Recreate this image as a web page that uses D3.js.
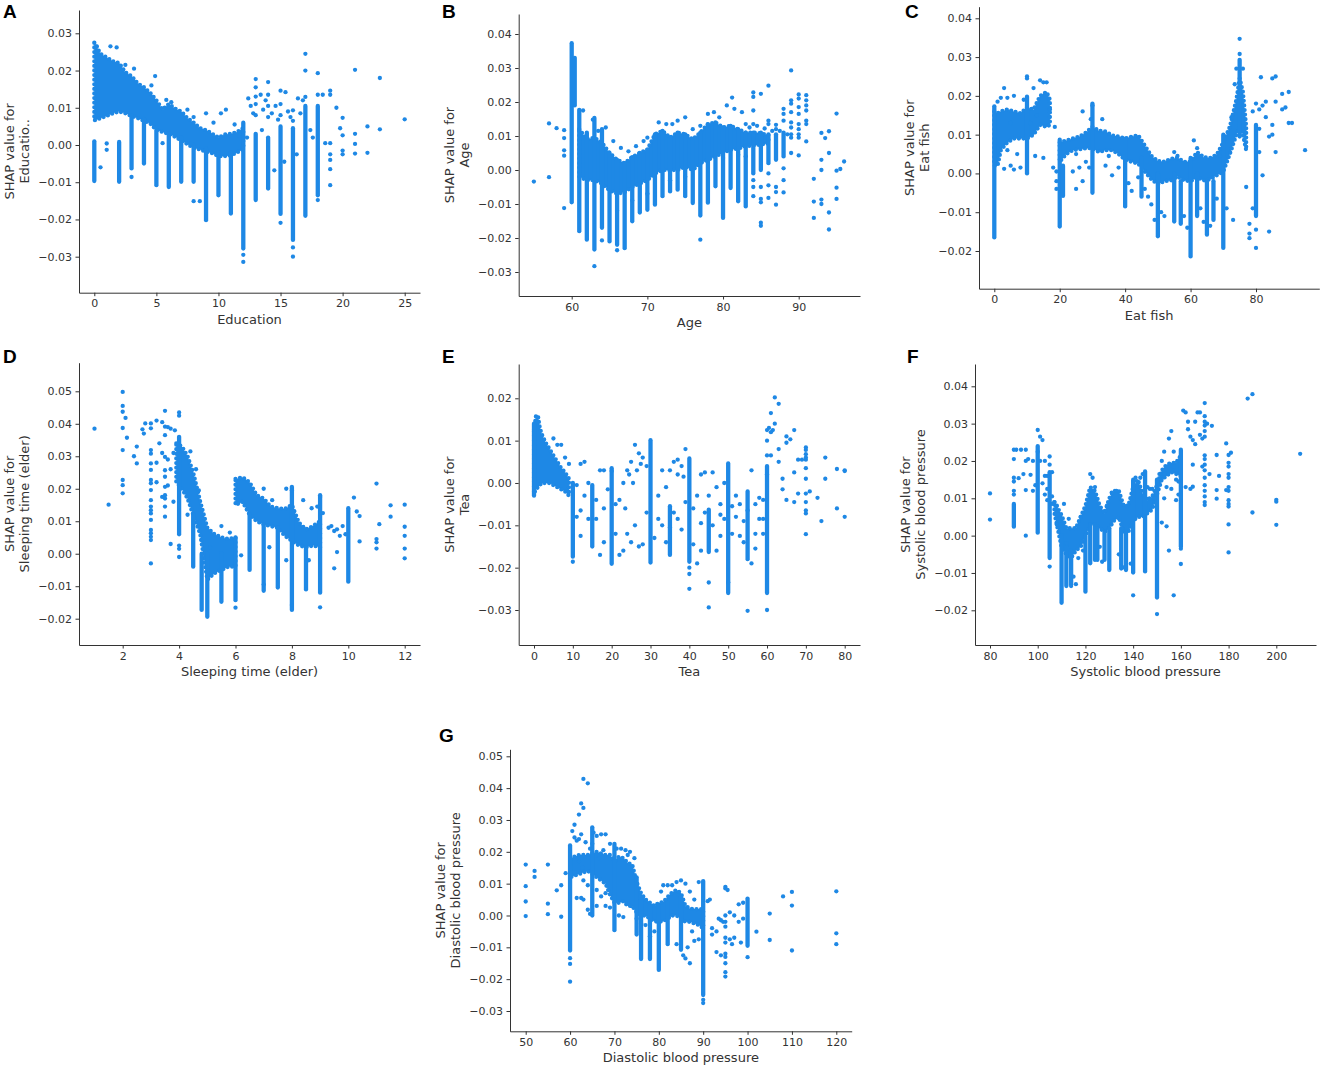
<!DOCTYPE html>
<html>
<head>
<meta charset="utf-8">
<script src="https://cdn.jsdelivr.net/npm/d3@7"></script>
<style>
  body { margin: 0; background: #fff; }
  text { font-family: "DejaVu Sans", sans-serif; }
</style>
</head>
<body>
<script>
// ---- data: dense clouds [x, lo, hi], dense columns [x, lo, hi], single dots [x, y]
var eduBands = [[
  [0, 0.0066, 0.0275], [0.5, 0.0072, 0.0245], [1, 0.0078, 0.0235], [1.5, 0.0085, 0.0225], [2, 0.009, 0.022],
  [2.5, 0.0085, 0.0195], [3, 0.0078, 0.0185], [3.5, 0.0072, 0.0165], [4, 0.0065, 0.0155], [4.5, 0.0058, 0.014],
  [5, 0.004, 0.012], [5.5, 0.0035, 0.0095], [6, 0.003, 0.011], [6.5, 0.0022, 0.0098], [7, 0.0012, 0.009],
  [7.5, 0.0002, 0.0072], [8, -0.0008, 0.006], [8.5, -0.0012, 0.0045], [9, -0.0018, 0.004], [9.5, -0.0022, 0.003],
  [10, -0.003, 0.002], [10.5, -0.003, 0.0028], [11, -0.0028, 0.003], [11.5, -0.002, 0.0035], [12, -0.001, 0.0045]
]];
var eduCols = [
  [0, -0.0097, 0.001], [2, -0.0099, 0.0008], [3, -0.0063, 0.008], [4, -0.005, 0.007], [5, -0.0108, 0.004],
  [6, -0.0113, 0.003], [7, -0.0099, 0.002], [8, -0.0099, 0.0], [9, -0.0202, -0.001], [10, -0.0135, -0.002],
  [11, -0.0184, -0.002], [12, -0.0278, 0.006], [13, -0.0148, 0.003], [14, -0.0117, 0.002], [15, -0.0185, 0.005],
  [16, -0.0255, 0.0045], [17, -0.019, 0.0105], [18, -0.0135, 0.0105]
];
var eduPts = [
  [0.2, 0.0265], [1.3, 0.0265], [1.8, 0.0262], [0.5, -0.006], [1, 0.0004], [1, -0.0013], [2.5, 0.0215], [3.2, 0.0205],
  [4.9, 0.0185], [4.6, 0.016], [5.8, 0.0121], [6.2, 0.0115], [7.5, 0.0095], [8, 0.0075], [9, 0.0085], [10.2, 0.0085],
  [10.6, 0.0095], [9.6, 0.006], [8.5, -0.0151], [8, -0.0151], [3, -0.0086], [5.5, 0.0005], [7.8, 0.0005],
  [11.3, 0.0055], [11.7, 0.0025], [12.4, 0.0125], [12.6, 0.0105], [12.8, 0.0085], [13.4, 0.0135], [13.6, 0.0095],
  [13.8, 0.012], [14.3, 0.0085], [14.6, 0.0105], [14.8, 0.0068], [15.4, 0.0142], [15.6, 0.009], [15.8, 0.0075],
  [16.4, 0.0125], [16.6, 0.0085], [16.8, 0.012], [17.4, 0.004], [17.6, 0.002], [15.3, -0.0045], [16.3, -0.0025],
  [14.5, -0.0068], [13.5, 0.004], [12.3, 0.002], [18.4, 0.0135], [18.6, 0.0005], [19.5, 0.01], [19.8, 0.0045],
  [20, 0.0073], [20, 0.0026], [20, -0.0015], [20, -0.0025], [21, 0.0202], [21, 0.003], [21, 0.0003], [21, -0.0023],
  [22, 0.005], [22, -0.0021], [23, 0.018], [23, 0.0042], [25, 0.0069], [19, 0.0146], [19, 0.0135], [19, 0.0005],
  [19, -0.0025], [19, -0.004], [19, -0.0065], [19, -0.0108], [12, -0.0295], [12, -0.0314], [13, 0.0177], [13, 0.0155],
  [13, 0.013], [13, 0.011], [13, 0.008], [14, 0.0169], [14, 0.0135], [14, 0.0105], [14, 0.0075], [15, 0.0146],
  [15, 0.011], [15, 0.008], [15, -0.0209], [16, -0.0275], [16, -0.030], [16, 0.0093], [16, 0.0065], [17, 0.0245],
  [17, 0.02], [17, 0.0129], [18, 0.0193], [18, 0.0135], [18, -0.0148]
];

var ageBands = [[
  [61, -0.002, 0.012], [62, -0.003, 0.009], [63, -0.003, 0.0095], [64, -0.004, 0.008], [65, -0.006, 0.005],
  [66, -0.007, 0.003], [67, -0.0065, 0.002], [68, -0.005, 0.0038], [69, -0.004, 0.005], [70, -0.003, 0.006],
  [71, -0.001, 0.0105], [72, 0.0, 0.0115], [73, 0.0, 0.0095], [74, 0.0, 0.011], [75, 0.001, 0.0105], [76, 0.0, 0.009],
  [77, 0.002, 0.011], [78, 0.003, 0.0135], [79, 0.004, 0.014], [80, 0.005, 0.0125], [81, 0.006, 0.013],
  [82, 0.0063, 0.012], [83, 0.007, 0.011], [84, 0.0072, 0.011], [85, 0.0075, 0.0108], [86, 0.0078, 0.0102]
]];
var ageCols = [
  [60, -0.0095, 0.0373], [60.4, 0.019, 0.033], [61, -0.018, 0.0177], [62, -0.0205, 0.011], [63, -0.0234, 0.0153],
  [64, -0.017, 0.012], [65, -0.021, 0.005], [66, -0.022, 0.003], [67, -0.023, 0.002], [68, -0.0151, 0.0038],
  [69, -0.0125, 0.005], [70, -0.0117, 0.006], [71, -0.0102, 0.0105], [72, -0.0077, 0.0115], [73, -0.0063, 0.0095],
  [74, -0.0058, 0.011], [75, -0.0077, 0.0105], [76, -0.0097, 0.009], [77, -0.0134, 0.011], [78, -0.0096, 0.0135],
  [79, -0.0048, 0.014], [80, -0.0141, 0.0125], [81, -0.0053, 0.013], [82, -0.0092, 0.012], [83, -0.0107, 0.011],
  [84, -0.001, 0.011], [85, 0.0, 0.011], [86, 0.002, 0.0105], [87, 0.003, 0.0105], [88, 0.004, 0.011]
];
var agePts = [
  [84, 0.0228], [84, 0.0215], [84, 0.0175], [84, 0.0135], [84, -0.003], [84, -0.005], [84, -0.0077],
  [85, 0.0224], [85, -0.005], [85, -0.0085], [85, -0.0095], [85, -0.0155], [85, -0.0164],
  [86, 0.0248], [86, 0.0145], [86, 0.0135], [86, -0.001], [86, -0.0045], [86, -0.0082],
  [87, 0.0133], [87, 0.012], [87, -0.005], [87, -0.0065], [87, -0.0102],
  [88, 0.018], [88, 0.0165], [88, 0.0145], [88, 0.0005], [88, -0.003], [88, -0.0066],
  [89, 0.0293], [89, 0.0205], [89, 0.0195], [89, 0.017], [89, 0.014], [89, 0.0125], [89, 0.0105], [89, 0.0095], [89, 0.005],
  [90, 0.0222], [90, 0.021], [90, 0.0185], [90, 0.0165], [90, 0.0135], [90, 0.012], [90, 0.0105], [90, 0.0095], [90, 0.0043],
  [91, 0.022], [91, 0.0205], [91, 0.019], [91, 0.0175], [91, 0.0145], [91, 0.0135], [91, 0.0084],
  [55, -0.0034], [57, 0.0137], [57, -0.0021], [58, 0.0123], [59, 0.0117], [59, 0.0094], [59, 0.0058], [59, 0.0042],
  [59, -0.0112], [63, -0.0283], [64, -0.0207], [66, -0.0236], [77, -0.0205], [92, -0.0026], [92, -0.0093],
  [92, -0.0141], [93, 0.0109], [93, 0.003], [93, 0.0], [93, -0.0087], [93, -0.01], [93.5, 0.0094], [94, 0.0114],
  [94, 0.005], [94, -0.0125], [94, -0.0175], [95, 0.0166], [95, -0.0002], [95, -0.0052], [95, -0.0085],
  [95.5, 0.0003], [96, 0.0025],
  [61.5, 0.0175], [62.8, 0.0148], [64.5, 0.0125], [63.5, 0.0115], [65.5, 0.0085], [66.5, 0.0065], [67.5, 0.0055],
  [68.5, 0.007], [69.5, 0.0085], [70, 0.0095], [71.5, 0.014], [72.5, 0.0135], [73.3, 0.0135], [74, 0.0145],
  [75, 0.0155], [76, 0.012], [77, 0.013], [78, 0.0165], [78.8, 0.017], [79.5, 0.0155], [80.5, 0.019], [81.2, 0.0213],
  [81.5, 0.018], [82.5, 0.017], [83, 0.0135], [83.5, 0.0125], [84.5, 0.013], [85.5, 0.0122], [86.5, 0.0115],
  [87.5, 0.0115], [88.5, 0.0105], [82, 0.0045], [83, 0.004], [80, 0.0035], [75, -0.002], [73, -0.003], [70, -0.007],
  [68, -0.009], [66, -0.012]
];

var fishBands = [
  [[0, 0.002, 0.016], [1, 0.002, 0.0155], [2, 0.006, 0.016], [4, 0.008, 0.0165], [6, 0.009, 0.016], [8, 0.009, 0.0155],
   [10, 0.009, 0.017], [12, 0.01, 0.0165], [14, 0.0125, 0.02], [16, 0.012, 0.021], [17, 0.0125, 0.019]],
  [[20, 0.003, 0.008], [22, 0.005, 0.0085], [24, 0.006, 0.009], [26, 0.0062, 0.0095], [28, 0.0065, 0.0105],
   [30, 0.0065, 0.012], [32, 0.0055, 0.011], [34, 0.006, 0.0108], [36, 0.006, 0.0098], [38, 0.005, 0.0095],
   [40, 0.0035, 0.009], [42, 0.003, 0.0095], [44, 0.0025, 0.0098], [46, 0.0005, 0.0072], [48, -0.0015, 0.0045],
   [50, -0.0028, 0.0032], [52, -0.002, 0.003], [54, -0.0018, 0.0038], [56, -0.0008, 0.004], [58, -0.0018, 0.003],
   [60, -0.002, 0.003], [62, -0.001, 0.0055], [64, -0.0018, 0.0042], [66, -0.0015, 0.004], [68, -0.0005, 0.0048],
   [70, 0.0005, 0.008], [72, 0.005, 0.012], [74, 0.01, 0.019], [75, 0.012, 0.0245], [76, 0.01, 0.021], [77, 0.006, 0.012]]
];
var fishCols = [
  [0, -0.0165, 0.0173], [10, 0.0, 0.0198], [20, -0.0137, 0.0087], [21, -0.0058, 0.002], [30, -0.005, 0.018],
  [40, -0.0085, 0.009], [45, -0.006, 0.004], [50, -0.0162, 0.0], [55, -0.0124, 0.0], [57, -0.013, -0.002],
  [60, -0.0214, 0.004], [62, -0.011, 0.0], [65, -0.0158, -0.002], [67, -0.012, -0.002], [70, -0.0192, 0.01],
  [75, 0.0095, 0.0293], [80, -0.011, 0.0125]
];
var fishPts = [
  [75, 0.0347], [75, 0.0308], [76, 0.027], [74, 0.027], [73.5, 0.023], [72.5, 0.0145], [3, 0.022], [2, 0.0195],
  [4, 0.0195], [6, 0.02], [9, 0.019], [10, 0.025], [10, 0.0245], [14, 0.024], [15, 0.0235], [16, 0.0235],
  [3, 0.0012], [5, 0.002], [6, 0.001], [8, 0.0015], [4, 0.006], [7, 0.005], [12.5, 0.0045], [15, 0.004],
  [18, 0.0015], [18.5, 0.012], [19, 0.0005], [19, -0.002], [19, -0.004], [25, 0.005], [26, 0.0015], [27, -0.002],
  [28, 0.003], [29, 0.0015], [25, -0.004], [24, 0.0005], [27, 0.016], [30, 0.0175], [29.5, 0.014], [33, 0.014],
  [35, 0.0045], [34, 0.002], [36, -0.0005], [38, 0.0015], [41, -0.0025], [42, -0.0045], [44, -0.001], [46, -0.004],
  [47, -0.006], [48, -0.008], [49, -0.012], [51, -0.01], [52, -0.011], [55, 0.0055], [56, 0.0045], [58, -0.011],
  [59, -0.014], [61, 0.0085], [62, 0.0065], [63, -0.009], [64, -0.0125], [66, -0.0135], [68, -0.0065], [69, 0.0045],
  [71, -0.009], [73, -0.012], [77, -0.0035], [78, -0.013], [78, -0.0155], [78, -0.0167], [79, 0.016], [79, -0.009],
  [80, 0.018], [80, -0.0192], [80, -0.0145], [81, 0.0055], [81, 0.0165], [81, 0.0115], [82, 0.0175], [82, -0.0005],
  [81.5, 0.0248], [83, 0.0145], [83, 0.0185], [84, 0.0095], [84, -0.015], [85, 0.0245], [85, 0.01], [85, 0.0125],
  [86, 0.025], [86, 0.0055], [86, 0.0185], [88, 0.0165], [88, 0.0205], [89, 0.017], [90, 0.021], [90, 0.013],
  [91, 0.013], [95, 0.006], [12, 0.022], [5, 0.013], [11, 0.013], [13, 0.015], [17, 0.0165], [1, 0.0185]
];

var sleepBands = [
  [[3.9, 0.022, 0.034], [4.1, 0.02, 0.033], [4.3, 0.017, 0.03], [4.5, 0.012, 0.025], [4.75, 0.006, 0.016],
   [5, -0.008, 0.008], [5.25, -0.006, 0.006], [5.5, -0.005, 0.005], [5.75, -0.004, 0.0045], [6, -0.004, 0.005]],
  [[6, 0.015, 0.023], [6.25, 0.016, 0.0235], [6.5, 0.012, 0.022], [6.75, 0.01, 0.018], [7, 0.009, 0.017],
   [7.25, 0.0085, 0.0145], [7.5, 0.008, 0.014], [7.75, 0.0055, 0.0138], [8, 0.004, 0.015], [8.25, 0.0025, 0.0095],
   [8.5, 0.002, 0.0075], [8.75, 0.0025, 0.0085], [9, 0.002, 0.01]]
];
var sleepCols = [
  [4, 0.006, 0.036], [4.5, -0.004, 0.012], [4.8, -0.0173, 0.0], [5, -0.0194, 0.0], [5.5, -0.0148, 0.0],
  [6, -0.0143, 0.005], [6.5, -0.005, 0.012], [7, -0.0114, 0.009], [7.5, -0.0104, 0.008], [8, -0.0173, 0.0206],
  [8.5, -0.0107, 0.002], [9, -0.012, 0.018], [10, -0.0086, 0.014]
];
var sleepPts = [
  [1, 0.0385], [1.5, 0.0151], [2, 0.0498], [2, 0.0455], [2, 0.0437], [2, 0.0387], [2, 0.0319], [2, 0.0227],
  [2, 0.0211], [2, 0.0186], [2.1, 0.0418], [2.15, 0.0357], [2.4, 0.03], [2.5, 0.033], [2.5, 0.0278], [2.7, 0.0383],
  [2.75, 0.037], [2.8, 0.0401], [3, -0.003],
  [3, 0.0401], [3, 0.0386], [3, 0.0319], [3, 0.0308], [3, 0.0278], [3, 0.0258], [3, 0.0227], [3, 0.0217],
  [3, 0.0196], [3, 0.0165], [3, 0.0145], [3, 0.0134], [3, 0.0124], [3, 0.0104], [3, 0.0073], [3, 0.0063],
  [3, 0.0052], [3, 0.0042],
  [3.5, 0.0391], [3.5, 0.0365], [3.5, 0.0298], [3.5, 0.0257], [3.5, 0.0237], [3.5, 0.0206], [3.5, 0.018],
  [3.5, 0.017], [3.5, 0.0145], [3.5, 0.0114],
  [3.2, 0.041], [3.4, 0.0405], [3.5, 0.044], [3.6, 0.039], [3.7, 0.0385], [3.85, 0.038], [4, 0.0435], [4, 0.0425],
  [4, 0.0025], [4, 0.0015], [4, -0.001], [3.3, 0.034], [3.4, 0.031], [3.6, 0.029], [3.7, 0.026], [3.8, 0.031],
  [3.2, 0.028], [3.6, 0.021], [3.8, 0.016], [3.4, 0.0175], [3.2, 0.022], [3.7, 0.003], [4.4, 0.0315], [4.6, 0.026],
  [4.7, 0.0195], [4.3, 0.012], [5.5, 0.0085], [5.8, 0.0065], [6.2, -0.0005], [7, 0.02], [7.3, 0.0165], [7.8, 0.02],
  [8, 0.0195], [8.4, 0.0165], [8.7, 0.014], [8.9, 0.0145], [9, 0.0175], [9.1, 0.0125], [9.3, 0.008], [9.4, 0.0085],
  [9.5, 0.007], [9.6, 0.0075], [9.7, 0.0055], [9.8, 0.0085], [9.9, 0.006], [10.3, 0.013], [10.2, 0.0173],
  [10.4, 0.0116], [10.4, 0.0038], [8.6, -0.002], [7.2, 0.002], [7.8, -0.002], [8.3, 0.0035], [9.6, 0.0005],
  [9.5, -0.0045], [5.1, 0.002], [11, 0.0216], [11, 0.0045], [11, 0.0035], [11, 0.0016], [11.1, 0.0091],
  [11.5, 0.0149], [11.5, 0.0114], [12, 0.0151], [12, 0.0083], [12, 0.0055], [12, 0.0016], [12, -0.0014],
  [6, -0.0166], [9, -0.0165], [8, -0.0158], [8.5, -0.011], [7, -0.0095]
];

var teaBands = [[
  [0, -0.0025, 0.0125], [0.5, -0.0015, 0.0158], [1, -0.001, 0.016], [1.5, -0.0005, 0.013], [2, 0.0, 0.0115],
  [3, 0.0, 0.0095], [4, 0.0, 0.008], [5, -0.0005, 0.0065], [6, -0.001, 0.005], [7, -0.0015, 0.0035],
  [8, -0.002, 0.0025], [9, -0.003, 0.001]
]];
var teaCols = [
  [0, -0.003, 0.014], [10, -0.0174, 0.0], [15, -0.015, -0.0005], [20, -0.0191, 0.0035], [30, -0.0188, 0.0101],
  [35, -0.017, -0.0055], [40, -0.0186, 0.0058], [45, -0.0163, -0.0063], [50, -0.026, 0.0046], [55, -0.018, -0.002],
  [60, -0.026, 0.004]
];
var teaPts = [
  [70, 0.0084], [70, 0.0078], [70, 0.0068], [70, 0.006], [70, 0.0055], [70, 0.0035], [70, 0.001], [70, -0.0025],
  [70, -0.0045], [70, -0.0065], [70, -0.0072], [70, -0.0121], [60, 0.0125], [60, 0.01], [60, 0.0065], [60, 0.002],
  [60, -0.03], [40, -0.020], [40, -0.0215], [40, -0.025], [45, -0.0235], [45, -0.0294], [55, -0.0302], [50, -0.0235],
  [10, -0.0186], [12, 0.0045], [13, 0.005], [11, -0.008], [12, -0.0125], [14, -0.0085], [13, -0.003], [16, -0.004],
  [17, 0.003], [18, 0.003], [20, 0.0028], [17, -0.017], [18, -0.014], [21, -0.012], [22, -0.017], [23, -0.016],
  [24, -0.012], [25, -0.014], [27, -0.015], [26, -0.01], [22, -0.004], [23, 0.0], [24, 0.003], [25, 0.005],
  [26, 0.009], [27, 0.007], [28, 0.006], [29, 0.004], [24.5, 0.002], [25.5, 0.0], [23.5, -0.006], [26.5, 0.003],
  [27.5, 0.0045], [31, -0.013], [32, -0.003], [33, -0.01], [33, 0.003], [34, -0.014], [34, -0.001], [35, 0.003],
  [36, 0.005], [37, 0.0055], [38, 0.004], [38, -0.011], [39, 0.008], [36, -0.007], [37, 0.002], [38.5, 0.0015],
  [41, -0.0145], [42, -0.019], [43, -0.016], [42, -0.003], [43, 0.002], [44, 0.0025], [44, -0.007], [46, -0.01],
  [46, 0.0025], [47, -0.016], [47, -0.001], [48, -0.005], [49, 0.0], [48, -0.0075], [51, -0.012], [52, -0.008],
  [52, -0.003], [53, -0.005], [54, -0.009], [54, -0.014], [56, -0.019], [56, 0.003], [57, -0.005], [57, -0.012],
  [58, -0.0035], [59, -0.004], [59, -0.0085], [61, 0.012], [61, 0.0065], [62, 0.014], [62, 0.0202], [63, 0.0187],
  [63, 0.008], [63, 0.005], [64, 0.001], [64, -0.0015], [65, 0.011], [65, 0.0095], [65, -0.004], [66, 0.0103],
  [67, 0.0125], [67, 0.0025], [67, -0.0045], [68, 0.0055], [68, -0.0025], [69, 0.0055], [71, -0.002], [73, -0.0035],
  [74, -0.009], [75, 0.006], [75, 0.001], [78, 0.0033], [78, -0.006], [80, 0.003], [80, 0.0028], [80, -0.008],
  [61, 0.0165], [60.5, 0.013], [61.5, 0.0125], [5, 0.0105], [6, 0.009], [7, 0.009], [8, 0.006], [9, 0.0045],
  [11, -0.0005], [14, 0.0], [19, -0.0015], [21, -0.005], [18, -0.006], [16, -0.0085], [12, -0.0065], [28, -0.0145],
  [29, -0.007], [32, -0.0085], [35, -0.0105], [37, -0.0085], [39, -0.0045], [41, -0.006], [43, -0.0095],
  [45, -0.003], [48, -0.0125], [49, -0.0085], [51, -0.0055], [53, -0.0125], [55, -0.0065], [57, -0.0155],
  [58, -0.0085], [59, -0.012]
];

var sbpBands = [[
  [107, 0.006, 0.009], [110, -0.003, 0.0055], [112, -0.005, 0.002], [114, -0.006, 0.002], [116, -0.004, 0.002],
  [118, -0.003, 0.005], [120, 0.0, 0.008], [122, 0.003, 0.013], [124, 0.003, 0.012], [126, 0.002, 0.008],
  [128, 0.001, 0.006], [130, 0.002, 0.01], [132, 0.004, 0.012], [134, 0.005, 0.012], [136, 0.001, 0.008],
  [138, 0.001, 0.008], [140, 0.004, 0.013], [142, 0.005, 0.015], [144, 0.005, 0.011], [146, 0.006, 0.0095],
  [148, 0.007, 0.0105], [150, 0.011, 0.0135], [152, 0.015, 0.0175], [154, 0.016, 0.019], [156, 0.017, 0.0195],
  [158, 0.0165, 0.0195], [160, 0.016, 0.0215]
]];
var sbpCols = [
  [90, 0.0024, 0.0085], [100, 0.0008, 0.024], [105, -0.006, 0.017], [110, -0.018, 0.0], [112, -0.0135, -0.003],
  [114, -0.013, -0.004], [120, -0.015, 0.0], [122, -0.0074, 0.003], [124, -0.0065, 0.003], [125, -0.0065, 0.002],
  [128, -0.0065, 0.001], [130, -0.0092, 0.002], [135, -0.0088, 0.002], [137, -0.0092, 0.001], [140, -0.0099, 0.015],
  [145, -0.0096, 0.0172], [150, -0.0166, 0.015], [160, -0.003, 0.023]
];
var sbpPts = [
  [90, 0.023], [90, 0.0205], [90, 0.0155], [90, 0.0145], [90, 0.012], [90, 0.011], [105, 0.0212], [105, 0.019],
  [105, -0.0083], [160, -0.0035], [160, -0.0076],
  [170, 0.0355], [170, 0.032], [170, 0.0305], [170, 0.0295], [170, 0.028], [170, 0.0265], [170, 0.0215],
  [170, 0.0205], [170, 0.019], [170, 0.0175], [170, 0.0155], [170, 0.0135], [170, 0.012], [170, 0.0105],
  [170, 0.009], [170, 0.0082],
  [180, 0.0216], [180, 0.0195], [180, 0.0185], [180, 0.0165], [180, 0.0155], [180, 0.013], [180, 0.012],
  [180, 0.0095], [180, 0.0085], [180, 0.0078], [180, 0.003], [180, -0.0045],
  [80, 0.0113], [80, 0.0043], [91, 0.023], [93, 0.023], [92, 0.0154], [94, 0.0165], [95, 0.023], [95, 0.02],
  [95, 0.0122], [95, 0.0], [96, 0.0205], [97, 0.0163], [98, 0.02], [98, 0.012], [99, 0.0135], [100, 0.0283],
  [100, 0.0225], [101, 0.0265], [101, 0.02], [102, 0.0256], [102, 0.014], [103, 0.02], [103, 0.016], [104, 0.016],
  [104, 0.0125], [103, 0.011], [104, 0.0095], [106, 0.017], [106, 0.0105], [106, 0.0085], [107, 0.009], [108, 0.008],
  [108, 0.003], [109, 0.0045], [111, 0.0085], [113, 0.0045], [112, -0.002], [114, -0.0135], [115, -0.011],
  [116, -0.013], [117, -0.006], [118, 0.005], [119, -0.004], [122, 0.0165], [123, 0.0155], [124, 0.013],
  [126, -0.003], [127, -0.007], [129, 0.008], [131, 0.0115], [133, 0.012], [134, -0.005], [136, -0.0085],
  [139, -0.0075], [141, 0.0155], [143, 0.0155], [144, 0.0165], [146, 0.013], [147, 0.0125], [148, 0.0125],
  [149, 0.01], [152, 0.0035], [153, 0.01], [154, 0.0025], [153, 0.0225], [155, 0.026], [156, 0.028], [157, 0.0225],
  [158, 0.015], [159, 0.011], [161, 0.0335], [162, 0.033], [163, 0.0305], [163, 0.0285], [164, 0.0265],
  [164, 0.0125], [166, 0.0305], [166, 0.0245], [167, 0.033], [168, 0.033], [168, 0.027], [169, 0.026],
  [169, 0.0185], [171, 0.03], [172, 0.0165], [157, -0.016], [140, -0.016], [155, -0.004], [158, 0.0095],
  [162, 0.013], [150, -0.021], [165, 0.0256], [165, 0.019], [165, 0.0131], [173, 0.0294], [175, 0.0216],
  [175, 0.0122], [175, 0.0099], [176, 0.016], [179, 0.0247], [179, 0.0122], [181, 0.0222], [188, 0.0367],
  [190, 0.0379], [190, 0.0062], [200, 0.0096], [200, 0.0091], [200, 0.0029], [210, 0.0219], [152, 0.02],
  [151, 0.0165], [154, 0.013], [156, 0.0125], [159, 0.0145], [153, 0.0175], [157, 0.0185]
];

var dbpBands = [[
  [60, 0.012, 0.018], [62, 0.013, 0.019], [64, 0.014, 0.019], [66, 0.012, 0.02], [68, 0.01, 0.019],
  [69, 0.0065, 0.019], [70, 0.004, 0.017], [71, 0.004, 0.0185], [72, 0.0045, 0.018], [73, 0.003, 0.0165],
  [74, 0.003, 0.016], [75, 0.001, 0.0105], [76, 0.0, 0.007], [77, 0.0, 0.005], [78, -0.001, 0.004],
  [79, -0.0018, 0.003], [80, -0.002, 0.004], [81, -0.0018, 0.0042], [82, -0.001, 0.0058], [83, 0.0, 0.0072],
  [84, 0.0, 0.008], [85, -0.001, 0.007], [86, -0.002, 0.003], [87, -0.002, 0.0022], [88, -0.0025, 0.002],
  [89, -0.003, 0.002], [90, -0.004, 0.002]
]];
var dbpCols = [
  [60, -0.011, 0.022], [65, 0.0, 0.0277], [70, -0.0046, 0.0225], [75, -0.006, 0.012], [76, -0.0137, 0.005],
  [78, -0.0137, 0.003], [80, -0.0171, 0.003], [82, -0.009, 0.004], [85, -0.0108, 0.006], [90, -0.025, 0.0108],
  [100, -0.0095, 0.0053]
];
var dbpPts = [
  [95, 0.009], [95, 0.0085], [95, 0.0], [95, -0.002], [95, -0.0035], [95, -0.007], [95, -0.0085], [95, -0.012],
  [95, -0.013], [95, -0.015], [95, -0.0178], [95, -0.0192],
  [50, 0.016], [50, 0.0092], [50, 0.0044], [50, -0.0002], [52, 0.014], [52, 0.0121], [55, 0.016], [55, 0.0037],
  [55, 0.0004], [57, 0.0079], [58, -0.0004], [58, 0.0095], [59, 0.0133], [60, -0.0134], [60, -0.0152],
  [60, -0.0208], [61, 0.0285], [62, 0.0317], [62.5, 0.0352], [63, 0.0429], [63, 0.0338], [64, 0.0415],
  [120, 0.0076], [120, -0.0056], [120, -0.009], [110, 0.0074], [110, 0.0031], [110, -0.011], [108, 0.006],
  [105, 0.0006], [105, -0.0077], [102, -0.0051], [100, -0.0131], [90, -0.0265], [90, -0.0275],
  [60.5, 0.0265], [61, 0.0245], [61.5, 0.0235], [62, 0.024], [61.5, 0.0055], [62.5, 0.0055], [63, 0.005],
  [62.8, 0.015], [64, 0.0018], [64.5, 0.0005], [65.3, 0.026], [66, 0.025], [67, 0.0255], [68, 0.0255],
  [67.5, 0.0205], [66, 0.003], [68, 0.003], [69, 0.0025], [70.5, 0.021], [71, 0.0], [72, -0.0005], [72.5, 0.0205],
  [73.5, 0.02], [74.5, 0.018], [75, -0.001], [76, -0.0025], [77, -0.003], [78, -0.0065], [79, -0.005],
  [80.5, 0.0075], [81, 0.0095], [82, 0.0095], [83, 0.0095], [84, 0.0105], [85, 0.011], [86, 0.01], [87, 0.0075],
  [88, 0.005], [89, 0.0105], [84, -0.009], [85.5, -0.0125], [86, -0.0135], [87, -0.015], [87.5, -0.005],
  [88, -0.008], [86.5, -0.01], [89, -0.0075], [91, 0.0045], [91.5, 0.005], [92, -0.004], [93, -0.005],
  [93, -0.0115], [94, -0.0125], [94, -0.0015], [95.5, 0.008], [96, -0.0075], [96, 0.001], [97, 0.0], [97, -0.007],
  [98, 0.0035], [98, -0.002], [99, -0.001], [99, 0.004], [92, -0.006], [93.5, -0.001], [94.5, -0.002],
  [96.5, -0.009], [98.5, -0.0085], [62, 0.017], [63.5, 0.023], [64.5, 0.021], [66.5, 0.018], [61, 0.0135],
  [63, 0.011], [64, 0.0095], [66, 0.008], [67, 0.006], [68, 0.007], [69, 0.0225], [71.5, 0.021], [73, 0.019],
  [65, 0.0225], [62.5, 0.0255]
];

// ---- tick labels
var eduXTicks = [0, 5, 10, 15, 20, 25], eduYTicks = [-0.03, -0.02, -0.01, 0, 0.01, 0.02, 0.03];
var ageXTicks = [60, 70, 80, 90], ageYTicks = [-0.03, -0.02, -0.01, 0, 0.01, 0.02, 0.03, 0.04];
var fishXTicks = [0, 20, 40, 60, 80], fishYTicks = [-0.02, -0.01, 0, 0.01, 0.02, 0.03, 0.04];
var sleepXTicks = [2, 4, 6, 8, 10, 12], sleepYTicks = [-0.02, -0.01, 0, 0.01, 0.02, 0.03, 0.04, 0.05];
var teaXTicks = [0, 10, 20, 30, 40, 50, 60, 70, 80], teaYTicks = [-0.03, -0.02, -0.01, 0, 0.01, 0.02];
var sbpXTicks = [80, 100, 120, 140, 160, 180, 200], sbpYTicks = [-0.02, -0.01, 0, 0.01, 0.02, 0.03, 0.04];
var dbpXTicks = [50, 60, 70, 80, 90, 100, 110, 120], dbpYTicks = [-0.03, -0.02, -0.01, 0, 0.01, 0.02, 0.03, 0.04, 0.05];

var BLUE = "#1E88E5";
var AXIS = "#333333";

// layout: box = spines, xa/ya = [tick value, pixel] pairs used to calibrate the scales
var panels = [
  {tag: "A", tx: 3, ty: 18, xlab: "Education", ylab: ["SHAP value for", "Educatio.."],
   bands: eduBands, cols: eduCols, pts: eduPts, xt: eduXTicks, yt: eduYTicks,
   box: {l: 79, r: 420, t: 10, b: 292.7}, xa: [0, 94.3, 25, 404.7], ya: [0.03, 33.3, -0.03, 256.7]},
  {tag: "B", tx: 442, ty: 18, xlab: "Age", ylab: ["SHAP value for", "Age"],
   bands: ageBands, cols: ageCols, pts: agePts, xt: ageXTicks, yt: ageYTicks,
   box: {l: 518.7, r: 860, t: 14, b: 296}, xa: [60, 571.7, 90, 798.7], ya: [0.04, 34, -0.03, 272]},
  {tag: "C", tx: 905, ty: 18, xlab: "Eat fish", ylab: ["SHAP value for", "Eat fish"],
   bands: fishBands, cols: fishCols, pts: fishPts, xt: fishXTicks, yt: fishYTicks,
   box: {l: 979, r: 1319.3, t: 6.7, b: 288.7}, xa: [0, 994.3, 80, 1256], ya: [0.04, 18.3, -0.02, 251]},
  {tag: "D", tx: 3, ty: 362.5, xlab: "Sleeping time (elder)", ylab: ["SHAP value for", "Sleeping time (elder)"],
   bands: sleepBands, cols: sleepCols, pts: sleepPts, xt: sleepXTicks, yt: sleepYTicks,
   box: {l: 79, r: 420, t: 362.7, b: 645}, xa: [2, 122.7, 12, 404.7], ya: [0.05, 391.3, -0.02, 618.7]},
  {tag: "E", tx: 442, ty: 362.5, xlab: "Tea", ylab: ["SHAP value for", "Tea"],
   bands: teaBands, cols: teaCols, pts: teaPts, xt: teaXTicks, yt: teaYTicks,
   box: {l: 518.7, r: 860, t: 364, b: 645}, xa: [0, 534, 80, 844.7], ya: [0.02, 398.3, -0.03, 610]},
  {tag: "F", tx: 907, ty: 362.5, xlab: "Systolic blood pressure", ylab: ["SHAP value for", "Systolic blood pressure"],
   bands: sbpBands, cols: sbpCols, pts: sbpPts, xt: sbpXTicks, yt: sbpYTicks,
   box: {l: 975, r: 1316, t: 364, b: 645}, xa: [80, 990, 200, 1276.3], ya: [0.04, 386.3, -0.02, 610.3]},
  {tag: "G", tx: 439, ty: 741.5, xlab: "Diastolic blood pressure", ylab: ["SHAP value for", "Diastolic blood pressure"],
   bands: dbpBands, cols: dbpCols, pts: dbpPts, xt: dbpXTicks, yt: dbpYTicks,
   box: {l: 510, r: 851.7, t: 749.3, b: 1031.3}, xa: [50, 525.7, 120, 836.3], ya: [0.05, 756.3, -0.03, 1011]}
];

var svg = d3.select("body").append("svg")
    .attr("width", 1325)
    .attr("height", 1069);

var fmtY = d3.format(".2f");

panels.forEach(function(p) {
    var b = p.box;
    // calibrate on two ticks, then stretch to the spine extents
    var x = d3.scaleLinear().domain([p.xa[0], p.xa[2]]).range([p.xa[1], p.xa[3]]);
    x.domain([x.invert(b.l), x.invert(b.r)]).range([b.l, b.r]);
    var y = d3.scaleLinear().domain([p.ya[0], p.ya[2]]).range([p.ya[1], p.ya[3]]);
    y.domain([y.invert(b.b), y.invert(b.t)]).range([b.b, b.t]);

    var g = svg.append("g");

    var area = d3.area()
        .x(function(d) { return x(d[0]); })
        .y0(function(d) { return y(d[1]); })
        .y1(function(d) { return y(d[2]); });

    // dense clouds: solid body, dotted rim so the edge reads as single dots
    g.selectAll("path.band")
        .data(p.bands)
        .enter().append("path")
        .attr("class", "band")
        .attr("d", area)
        .attr("fill", BLUE)
        .attr("stroke", BLUE)
        .attr("stroke-width", 4.3)
        .attr("stroke-linecap", "round")
        .attr("stroke-dasharray", "0,4.6");

    g.selectAll("line.col")
        .data(p.cols)
        .enter().append("line")
        .attr("class", "col")
        .attr("x1", function(d) { return x(d[0]); })
        .attr("x2", function(d) { return x(d[0]); })
        .attr("y1", function(d) { return y(d[1]); })
        .attr("y2", function(d) { return y(d[2]); })
        .attr("stroke", BLUE)
        .attr("stroke-width", 4.3)
        .attr("stroke-linecap", "round");

    g.selectAll("circle")
        .data(p.pts)
        .enter().append("circle")
        .attr("cx", function(d) { return x(d[0]); })
        .attr("cy", function(d) { return y(d[1]); })
        .attr("r", 2.15)
        .attr("fill", BLUE);

    // axes (left and bottom spines only)
    var xAxis = g.append("g")
        .attr("transform", "translate(0," + b.b + ")")
        .call(d3.axisBottom(x).tickValues(p.xt).tickFormat(d3.format("d"))
            .tickSize(3.5).tickSizeOuter(0).tickPadding(3.5));
    var yAxis = g.append("g")
        .attr("transform", "translate(" + b.l + ",0)")
        .call(d3.axisLeft(y).tickValues(p.yt).tickFormat(function(d) { return fmtY(d); })
            .tickSize(3.5).tickSizeOuter(0).tickPadding(3.5));

    [xAxis, yAxis].forEach(function(a) {
        a.select(".domain").attr("stroke", AXIS).attr("stroke-width", 1);
        a.selectAll(".tick line").attr("stroke", AXIS).attr("stroke-width", 1);
        a.selectAll(".tick text")
            .attr("fill", AXIS)
            .style("font-family", "'DejaVu Sans', sans-serif")
            .style("font-size", "11px");
    });

    g.append("text")
        .attr("x", (b.l + b.r) / 2)
        .attr("y", b.b + 31)
        .attr("text-anchor", "middle")
        .attr("fill", AXIS)
        .style("font-size", "13px")
        .text(p.xlab);

    var yc = (b.t + b.b) / 2;
    p.ylab.forEach(function(s, i) {
        var lx = b.l - 65 + i * 15;
        g.append("text")
            .attr("x", lx)
            .attr("y", yc)
            .attr("transform", "rotate(-90," + lx + "," + yc + ")")
            .attr("text-anchor", "middle")
            .attr("fill", AXIS)
            .style("font-size", "13px")
            .text(s);
    });

    g.append("text")
        .attr("x", p.tx)
        .attr("y", p.ty)
        .attr("fill", "#000")
        .style("font-family", "'Liberation Sans', Arial, sans-serif")
        .style("font-weight", "bold")
        .style("font-size", "19px")
        .text(p.tag);
});
</script>
</body>
</html>
